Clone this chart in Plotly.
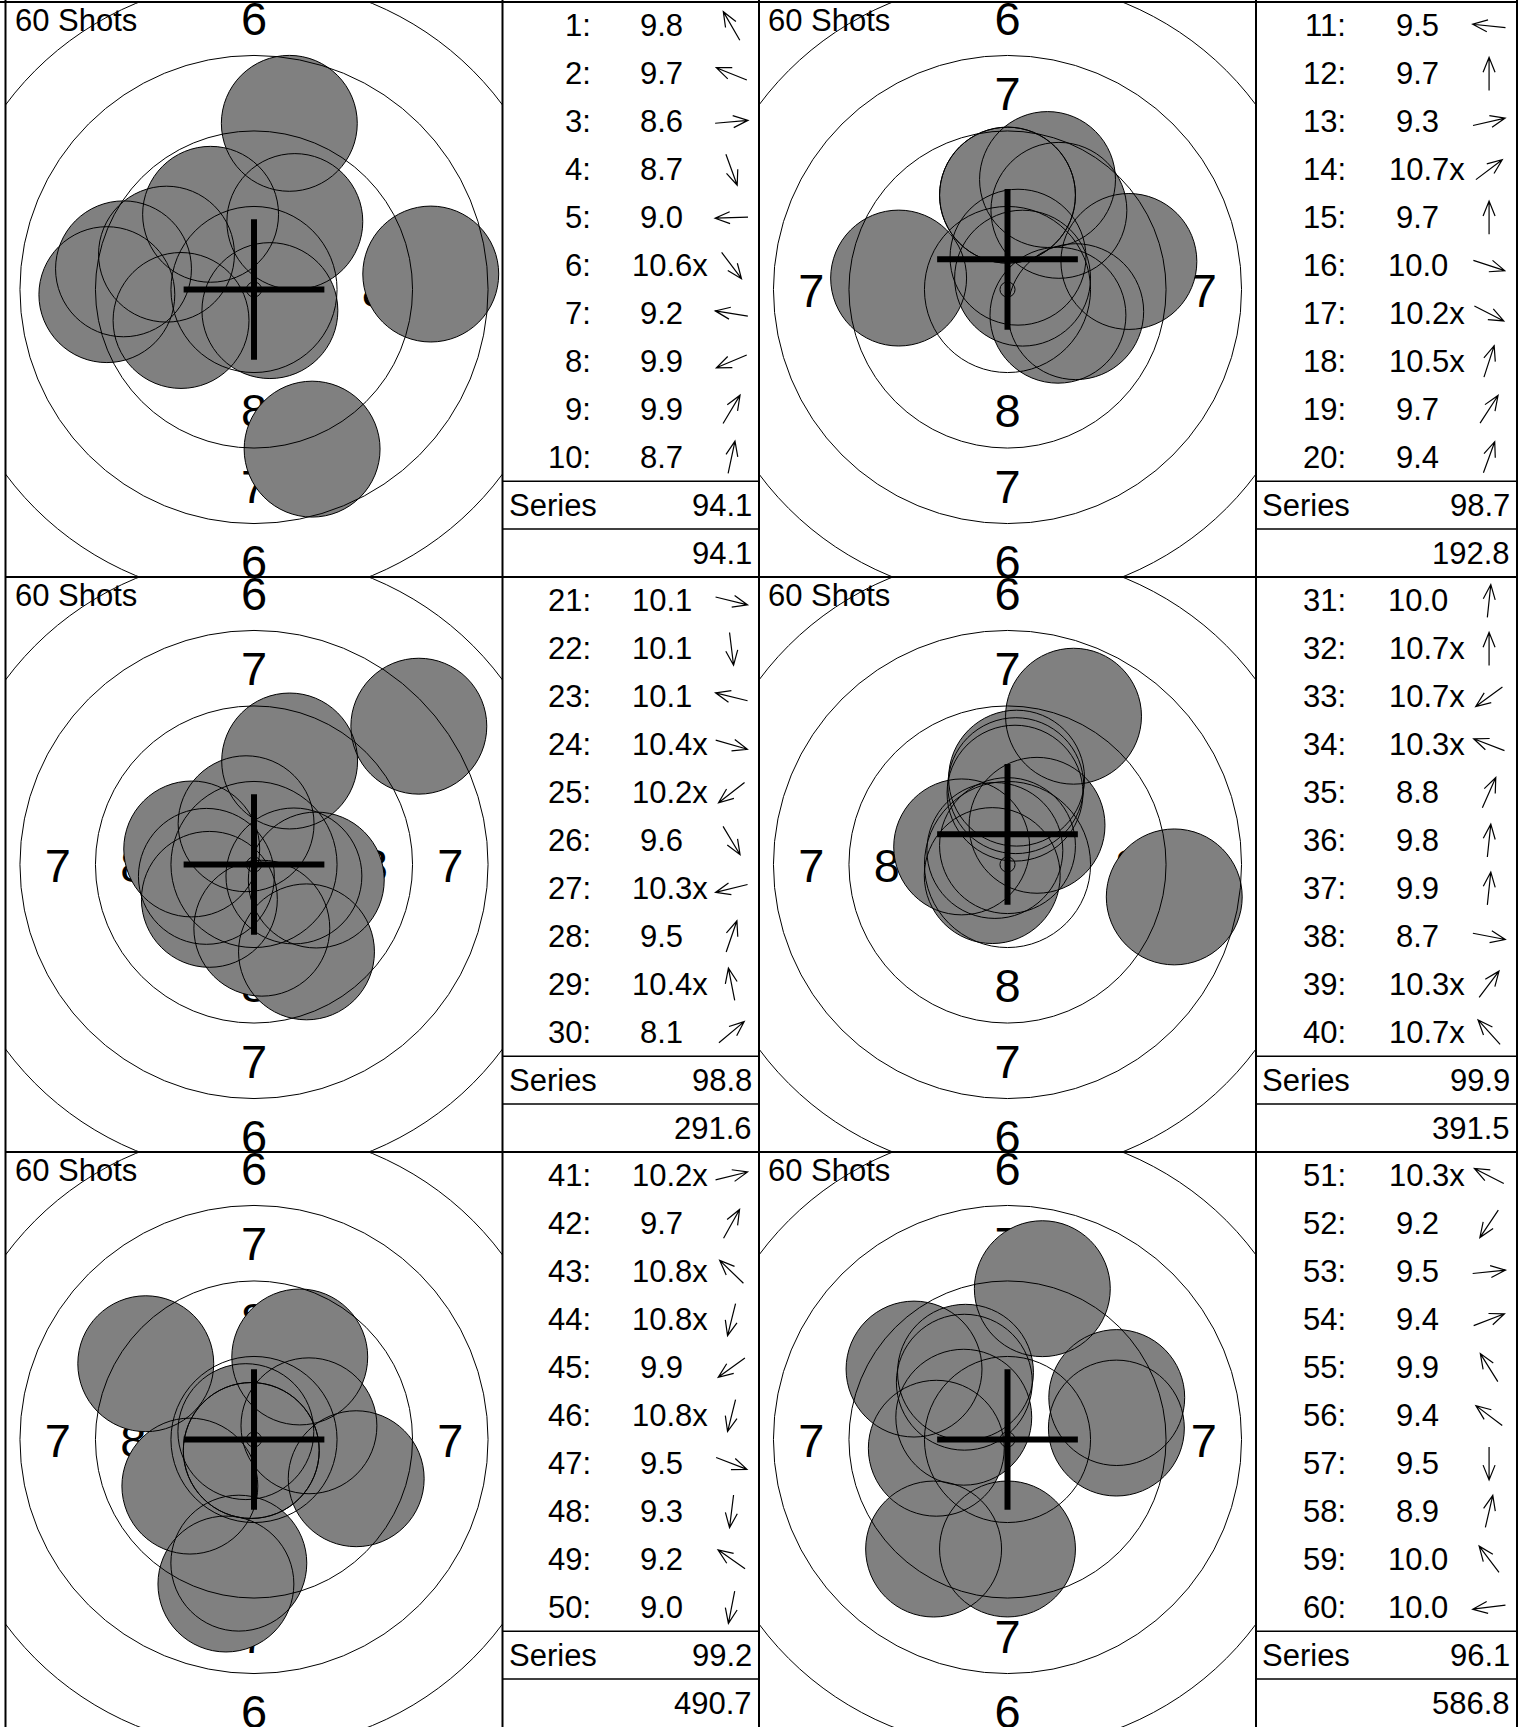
import math
import plotly.graph_objects as go

W, H = 1519, 1727

# ---------------- data ----------------
shot_numbers = list(range(1, 61))
shot_scores = [9.8, 9.7, 8.6, 8.7, 9.0, 10.6, 9.2, 9.9, 9.9, 8.7,
               9.5, 9.7, 9.3, 10.7, 9.7, 10.0, 10.2, 10.5, 9.7, 9.4,
               10.1, 10.1, 10.1, 10.4, 10.2, 9.6, 10.3, 9.5, 10.4, 8.1,
               10.0, 10.7, 10.7, 10.3, 8.8, 9.8, 9.9, 8.7, 10.3, 10.7,
               10.2, 9.7, 10.8, 10.8, 9.9, 10.8, 9.5, 9.3, 9.2, 9.0,
               10.3, 9.2, 9.5, 9.4, 9.9, 9.4, 9.5, 8.9, 10.0, 10.0]
inner_ten = [0, 0, 0, 0, 0, 1, 0, 0, 0, 0,
             0, 0, 0, 1, 0, 0, 1, 1, 0, 0,
             0, 0, 0, 1, 1, 0, 1, 0, 1, 0,
             0, 1, 1, 1, 0, 0, 0, 0, 1, 1,
             1, 0, 1, 1, 0, 1, 0, 0, 0, 0,
             1, 0, 0, 0, 0, 0, 0, 0, 0, 0]
# direction of each shot from the target centre (degrees, 0 = right, 90 = up)
shot_dirs_deg = [120, 158, 5, -70, 182, -53, 171, 203, 59, 78,
                 174, 90, 13, 37, 90, -18, -27, 72, 57, 70,
                 -14, -83, 166, -16, 218, -59, 194, 71, 101, 40,
                 84, 90, 216, 159, 66, 84, 84, -11, 53, 132,
                 14, 61, 136, 256, 216, 256, -21, 263, 145, 259,
                 153, 236, 6, 21, 122, 143, 270, 77, 127, 187]
series_totals = [94.1, 98.7, 98.8, 99.9, 99.2, 96.1]
running_totals = [94.1, 192.8, 291.6, 391.5, 490.7, 586.8]
cross_dx_mm = [0.0, 0.0, 0.0, 0.0, 0.0, 0.0]
cross_dy_mm = [0.0, 1.0, 0.0, 1.0, 0.0, 0.0]
ring_values = ["6", "7", "8"]
ring_label_r_mm = [9.0, 6.5, 4.0]
ring_radii_mm = [0.25, 2.75, 5.25, 7.75, 10.25]
PELLET_R = 2.25
panel_title = "60 Shots"

# ---------------- geometry ----------------
PPM = 30.2  # pixels per mm
col_bounds = [(5.5, 502.5, 759.0), (759.0, 1256.0, 1517.0)]
row_bounds = [(2.0, 577.0), (577.0, 1152.0), (1152.0, 1727.0)]
FONT = "Liberation Sans, Arial, sans-serif"
TFS = 31
LABEL_DY = -0.18  # mm, vertical nudge of ring numbers


def px(x):
    return x / W


def py(y):
    return 1 - y / H


fig = go.Figure()
annotations = []
axes = {}

fills, outlines, crosses = [], [], []

for p in range(6):
    r, c = divmod(p, 2)
    L, S, R = col_bounds[c]
    T, B = row_bounds[r]
    cx, cy = (L + S) / 2, (T + B) / 2
    sfx = "" if p == 0 else str(p + 1)
    xr, yr = "x" + sfx, "y" + sfx
    axes["xaxis" + sfx] = dict(domain=[L / W, S / W], range=[(L - cx) / PPM, (S - cx) / PPM],
                               visible=False, fixedrange=True, anchor=yr)
    axes["yaxis" + sfx] = dict(domain=[max(0, 1 - B / H), 1 - T / H], range=[(cy - B) / PPM, (cy - T) / PPM],
                               visible=False, fixedrange=True, anchor=xr)

    # ring numbers
    lx, ly, lt = [], [], []
    for v, rad in zip(ring_values, ring_label_r_mm):
        for ux, uy in [(0, 1), (0, -1), (-1, 0), (1, 0)]:
            lx.append(ux * rad)
            ly.append(uy * rad + LABEL_DY)
            lt.append(v)
    fig.add_trace(go.Scatter(x=lx, y=ly, text=lt, mode="text",
                             textfont=dict(family=FONT, size=47, color="black"),
                             textposition="middle center", cliponaxis=True,
                             xaxis=xr, yaxis=yr, hoverinfo="skip", showlegend=False))

    # shots
    for i in range(10):
        k = p * 10 + i
        d = (10.9 - shot_scores[k]) * 2.5 + 0.125
        a = math.radians(shot_dirs_deg[k])
        sx, sy = d * math.cos(a), d * math.sin(a)
        fills.append(dict(type="circle", xref=xr, yref=yr, x0=sx - PELLET_R, x1=sx + PELLET_R,
                          y0=sy - PELLET_R, y1=sy + PELLET_R, fillcolor="#808080",
                          line=dict(width=0), layer="above"))
        outlines.append(dict(type="circle", xref=xr, yref=yr, x0=sx - PELLET_R, x1=sx + PELLET_R,
                             y0=sy - PELLET_R, y1=sy + PELLET_R, fillcolor="rgba(0,0,0,0)",
                             line=dict(width=1, color="black"), layer="above"))
    for rr in ring_radii_mm:
        outlines.append(dict(type="circle", xref=xr, yref=yr, x0=-rr, x1=rr, y0=-rr, y1=rr,
                             fillcolor="rgba(0,0,0,0)", line=dict(width=1, color="black"), layer="above"))
    # aiming cross
    ccx, ccy = cross_dx_mm[p], cross_dy_mm[p]
    arm = 2.33
    crosses.append(dict(type="line", xref=xr, yref=yr, x0=ccx - arm, x1=ccx + arm, y0=ccy, y1=ccy,
                        line=dict(width=6, color="black"), layer="above"))
    crosses.append(dict(type="line", xref=xr, yref=yr, x0=ccx, x1=ccx, y0=ccy - arm, y1=ccy + arm,
                        line=dict(width=6, color="black"), layer="above"))

    # title
    annotations.append(dict(x=px(L + 8), y=py(T), xref="paper", yref="paper", text=panel_title,
                            showarrow=False, xanchor="left", yanchor="top", borderpad=0,
                            font=dict(family=FONT, size=31, color="black")))

    # table
    TW = R - S
    rh = (B - T) / 12
    for i in range(10):
        k = p * 10 + i
        yc = T + rh * (i + 0.5)
        annotations.append(dict(x=px(S + 0.35 * TW), y=py(yc), xref="paper", yref="paper",
                                text=f"{shot_numbers[k]}:", showarrow=False, xanchor="right",
                                yanchor="middle", borderpad=0, font=dict(family=FONT, size=TFS, color="black")))
        num = f"{shot_scores[k]:.1f}"
        sc = S + 0.62 * TW
        if inner_ten[k]:
            wnum = TFS * (0.556 * (len(num) - 1) + 0.278)
            annotations.append(dict(x=px(sc - wnum / 2), y=py(yc), xref="paper", yref="paper",
                                    text=num + "x", showarrow=False, xanchor="left", yanchor="middle",
                                    borderpad=0, font=dict(family=FONT, size=TFS, color="black")))
        else:
            annotations.append(dict(x=px(sc), y=py(yc), xref="paper", yref="paper",
                                    text=num, showarrow=False, xanchor="center", yanchor="middle",
                                    borderpad=0, font=dict(family=FONT, size=TFS, color="black")))
        # direction arrow
        a = math.radians(shot_dirs_deg[k])
        acx, acy = S + 0.893 * TW, T + rh * (i + 0.5)
        Lh = 16.5
        ux, uy = math.cos(a), -math.sin(a)
        hx, hy = acx + ux * Lh, acy + uy * Lh
        tx, ty = acx - ux * Lh, acy - uy * Lh
        hl, ha = 16, math.radians(22)
        pts = []
        for sgn in (1, -1):
            ca, sa = math.cos(ha), sgn * math.sin(ha)
            bx = -(ux * ca - uy * sa)
            byy = -(ux * sa + uy * ca)
            pts.append((hx + hl * bx, hy + hl * byy))
        path = (f"M {px(tx)} {py(ty)} L {px(hx)} {py(hy)} "
                f"M {px(pts[0][0])} {py(pts[0][1])} L {px(hx)} {py(hy)} L {px(pts[1][0])} {py(pts[1][1])}")
        crosses.append(dict(type="path", xref="paper", yref="paper", path=path,
                            line=dict(width=1.2, color="black"), layer="above"))
    ys = T + rh * 10.5
    annotations.append(dict(x=px(S + 5), y=py(ys), xref="paper", yref="paper", text="Series",
                            showarrow=False, xanchor="left", yanchor="middle", borderpad=0,
                            font=dict(family=FONT, size=TFS, color="black")))
    annotations.append(dict(x=px(R - 6), y=py(ys), xref="paper", yref="paper", text=f"{series_totals[p]:.1f}",
                            showarrow=False, xanchor="right", yanchor="middle", borderpad=0,
                            font=dict(family=FONT, size=TFS, color="black")))
    yt = T + rh * 11.5
    annotations.append(dict(x=px(R - 6), y=py(yt), xref="paper", yref="paper", text=f"{running_totals[p]:.1f}",
                            showarrow=False, xanchor="right", yanchor="middle", borderpad=0,
                            font=dict(family=FONT, size=TFS, color="black")))
    for yy in (T + rh * 10, T + rh * 11):
        crosses.append(dict(type="line", xref="paper", yref="paper", x0=px(S), x1=px(R), y0=py(yy), y1=py(yy),
                            line=dict(width=1.5, color="black"), layer="above"))

# frame
frame = []
for xv in (5.5, 502.5, 759.0, 1256.0, 1517.0):
    frame.append(dict(type="line", xref="paper", yref="paper", x0=px(xv), x1=px(xv), y0=py(0), y1=py(H),
                      line=dict(width=2, color="black"), layer="above"))
for yv in (2.0, 577.0, 1152.0):
    frame.append(dict(type="line", xref="paper", yref="paper", x0=px(0 if yv < 5 else 5.5), x1=px(1517),
                      y0=py(yv), y1=py(yv), line=dict(width=2, color="black"), layer="above"))

shapes = fills + outlines + crosses + frame

fig.update_layout(width=W, height=H, autosize=False,
                  margin=dict(l=0, r=0, t=0, b=0, pad=0),
                  paper_bgcolor="white", plot_bgcolor="rgba(0,0,0,0)",
                  showlegend=False, shapes=shapes, annotations=annotations, **axes)

fig.write_html("out.html", config={"displayModeBar": False, "staticPlot": True},
               post_script="document.body.style.margin='0px';document.body.style.overflow='hidden';")
